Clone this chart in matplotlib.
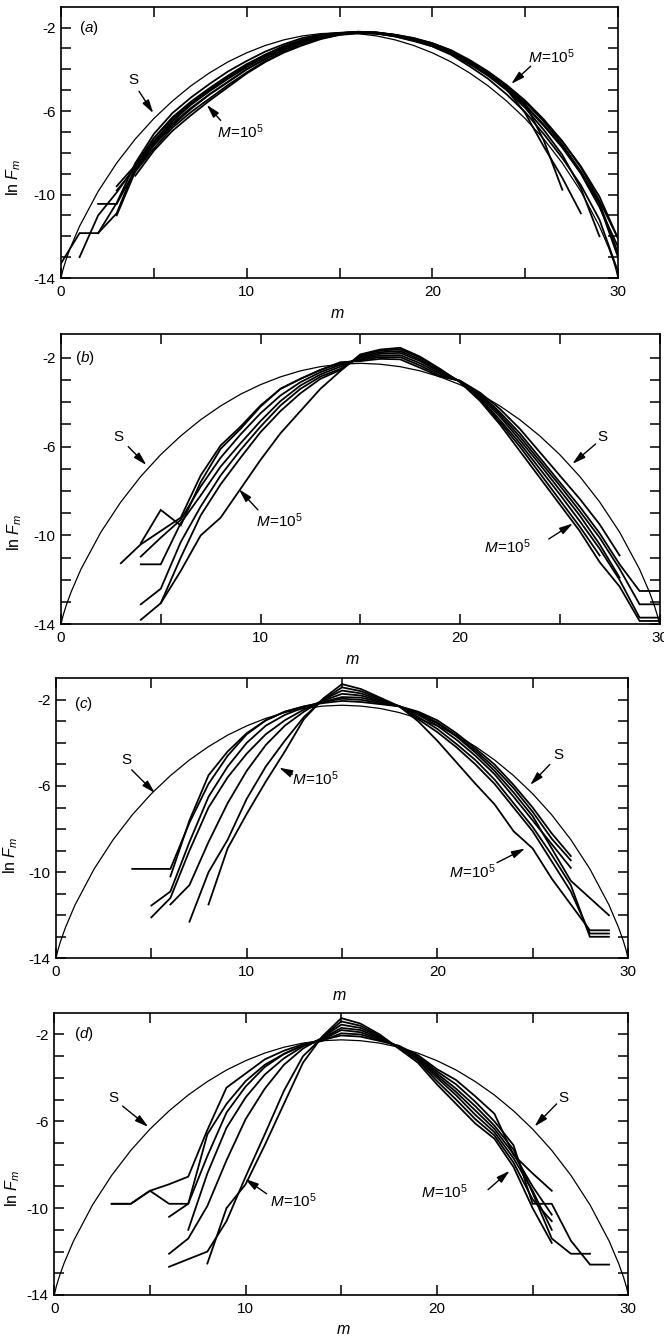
import numpy as np
import matplotlib
matplotlib.use("Agg")
import matplotlib.pyplot as plt

plt.rcParams['font.family'] = ['Liberation Sans', 'DejaVu Sans']
plt.rcParams['mathtext.fontset'] = 'custom'
plt.rcParams['mathtext.rm'] = 'Liberation Sans'
plt.rcParams['mathtext.it'] = 'Liberation Sans:italic'
plt.rcParams['axes.unicode_minus'] = False

# ---- S curve (same in every panel) ----
S_M = [0, 0.1, 0.25, 0.5, 1, 2, 3, 4, 5, 6, 7, 8, 9, 10, 11, 12, 13, 14, 15,
       16, 17, 18, 19, 20, 21, 22, 23, 24, 25, 26, 27, 28, 29, 29.5, 29.75, 29.9, 30]
S_LNF = [-14.0, -13.62, -13.18, -12.56, -11.52, -9.85, -8.49, -7.34, -6.36, -5.52, -4.79,
         -4.17, -3.64, -3.21, -2.86, -2.59, -2.40, -2.29, -2.25,
         -2.29, -2.40, -2.59, -2.86, -3.21, -3.64, -4.17, -4.79, -5.52, -6.36, -7.34,
         -8.49, -9.85, -11.52, -12.56, -13.18, -13.62, -14.0]

# ---- data curves: (first m, ln F_m at consecutive integer m) ----
A_CURVES = [
    (0, [-13.3, -11.85, -11.85, -10.4, -8.5, -7.1, -6.1, -5.35, -4.7, -4.1, -3.6, -3.15, -2.8, -2.5, -2.33,
         -2.25, -2.22, -2.28, -2.43, -2.65, -2.9, -3.25, -3.75, -4.3, -4.95, -5.75, -6.7, -7.75, -9.0, -10.6, -12.5]),
    (1, [-13.0, -11.0, -9.9, -8.65, -7.3, -6.3, -5.55, -4.9, -4.3, -3.75, -3.3, -2.92, -2.6, -2.4, -2.27,
         -2.2, -2.23, -2.35, -2.52, -2.75, -3.1, -3.6, -4.15, -4.8, -5.55, -6.45, -7.45, -8.7, -10.3, -12.1]),
    (2, [-10.45, -10.45, -8.8, -7.5, -6.5, -5.7, -5.05, -4.45, -3.9, -3.4, -3.0, -2.67, -2.43, -2.3, -2.23,
         -2.28, -2.42, -2.62, -2.85, -3.2, -3.7, -4.25, -4.9, -5.7, -6.65, -7.7, -8.9, -10.5, -13.0]),
    (2, [-11.85, -10.9, -8.7, -7.45, -6.45, -5.65, -5.0, -4.4, -3.85, -3.35, -2.95, -2.62, -2.4, -2.27,
         -2.21, -2.25, -2.38, -2.57, -2.8, -3.15, -3.65, -4.2, -4.85, -5.65, -7.4, -9.77]),
    (3, [-9.8, -8.75, -7.6, -6.6, -5.85, -5.2, -4.6, -4.0, -3.5, -3.08, -2.72, -2.47, -2.3, -2.22, -2.25,
         -2.36, -2.55, -2.8, -3.15, -3.65, -4.25, -4.95, -6.1, -7.7, -9.2, -10.9]),
    (3, [-11.0, -8.9, -7.8, -6.8, -6.05, -5.4, -4.75, -4.15, -3.6, -3.15, -2.8, -2.52, -2.34, -2.25, -2.27,
         -2.38, -2.58, -2.83, -3.2, -3.72, -4.3, -5.0, -5.85, -6.9, -8.1, -9.7, -12.0]),
    (4, [-9.1, -7.9, -6.95, -6.2, -5.5, -4.85, -4.2, -3.65, -3.2, -2.85, -2.55, -2.35, -2.28, -2.3, -2.4,
         -2.6, -2.9, -3.3, -3.85, -4.45, -5.2, -6.05, -7.1, -8.25, -9.55, -11.2, -13.7]),
    (4, [-8.9, -7.65, -6.7, -5.9, -5.2, -4.6, -4.0, -3.5, -3.05, -2.7, -2.45, -2.3, -2.22, -2.24, -2.34,
         -2.5, -2.75, -3.08, -3.55, -4.1, -4.75, -5.5, -6.4, -7.45, -8.65, -10.1, -12.1]),
    (3, [-9.6, -8.6, -7.3, -6.35, -5.6, -4.95, -4.35, -3.8, -3.3, -2.88, -2.58, -2.37, -2.26, -2.2, -2.24,
         -2.36, -2.55, -2.78, -3.12, -3.6, -4.15, -4.8, -5.55, -6.5, -7.6, -8.9, -10.4, -12.8]),
]

B_CURVES = [
    (4, [-10.35, -8.85, -9.55, -7.6, -6.1, -5.2, -4.2, -3.4, -2.95, -2.55, -2.2, -2.15, -2.05, -2.07,
         -2.45, -2.85, -3.03, -3.57, -4.3, -5.2, -6.25, -7.3, -8.35, -9.5, -10.9]),
    (3, [-11.25, -10.4, -9.8, -9.2, -7.3, -5.95, -5.1, -4.15, -3.4, -2.95, -2.55, -2.25, -2.1, -1.97, -1.97,
         -2.35, -2.8, -3.04, -3.62, -4.45, -5.4, -6.5, -7.6, -8.7, -9.9, -11.3, -12.5, -12.5]),
    (4, [-10.95, -10.1, -9.3, -7.8, -6.5, -5.45, -4.5, -3.7, -3.1, -2.65, -2.32, -2.05, -1.9, -1.88,
         -2.25, -2.72, -3.05, -3.68, -4.55, -5.55, -6.65, -7.75, -8.9, -10.1, -11.5, -13.1, -13.1]),
    (4, [-11.3, -11.3, -9.45, -8.2, -6.9, -5.85, -4.85, -3.95, -3.25, -2.75, -2.4, -2.0, -1.82, -1.78,
         -2.15, -2.65, -3.06, -3.75, -4.65, -5.7, -6.8, -7.95, -9.1, -10.4, -11.9]),
    (4, [-13.1, -12.4, -10.3, -8.7, -7.3, -6.15, -5.1, -4.15, -3.4, -2.85, -2.5, -1.95, -1.75, -1.7,
         -2.08, -2.6, -3.07, -3.82, -4.8, -5.85, -7.0, -8.15, -9.35, -10.6, -12.0, -13.7, -13.7]),
    (4, [-13.8, -13.05, -11.0, -9.1, -7.7, -6.5, -5.35, -4.4, -3.6, -2.95, -2.55, -1.9, -1.68, -1.62,
         -2.0, -2.55, -3.08, -3.88, -4.9, -6.0, -7.2, -8.4, -9.6, -10.9]),
    (5, [-13.05, -11.6, -10.0, -9.2, -7.9, -6.6, -5.4, -4.4, -3.4, -2.6, -1.85, -1.63, -1.55,
         -1.95, -2.5, -3.1, -3.94, -5.0, -6.2, -7.4, -8.6, -9.8, -11.2, -12.3, -13.85, -13.85]),
]

C_CURVES = [
    (4, [-9.85, -9.85, -9.85, -7.7, -5.9, -4.6, -3.6, -2.95, -2.55, -2.3, -2.15, -2.05, -2.1, -2.2,
         -2.3, -2.55, -2.95, -3.55, -4.25, -5.0, -5.95, -7.0, -8.2, -9.25]),
    (6, [-10.2, -7.6, -5.5, -4.4, -3.55, -2.95, -2.55, -2.32, -2.1, -1.95, -2.0, -2.15, -2.3, -2.6,
         -3.05, -3.65, -4.35, -5.15, -6.1, -7.2, -8.45, -9.45]),
    (5, [-11.55, -10.9, -8.6, -6.5, -5.1, -4.0, -3.2, -2.7, -2.35, -2.1, -1.87, -1.9, -2.1, -2.3, -2.65,
         -3.1, -3.7, -4.45, -5.3, -6.3, -7.4, -8.9, -10.4, -11.2, -12.0]),
    (5, [-12.1, -11.2, -9.0, -7.0, -5.6, -4.5, -3.6, -2.95, -2.45, -2.05, -1.72, -1.8, -2.05, -2.3, -2.7,
         -3.2, -3.85, -4.6, -5.45, -6.5, -7.6, -8.7, -9.8]),
    (6, [-11.5, -10.6, -8.6, -6.8, -5.3, -4.1, -3.2, -2.55, -2.0, -1.57, -1.7, -2.0, -2.3, -2.8, -3.35,
         -4.05, -4.8, -5.7, -6.8, -7.9, -9.2, -10.6, -13.0, -13.0]),
    (7, [-12.3, -10.0, -8.5, -6.6, -5.1, -3.9, -2.8, -2.0, -1.42, -1.6, -1.95, -2.3, -2.9, -3.5, -4.2,
         -5.0, -5.9, -7.0, -8.1, -9.5, -10.9, -12.85, -12.85]),
    (8, [-11.5, -8.9, -7.3, -5.8, -4.4, -2.9, -1.95, -1.27, -1.5, -1.9, -2.3, -3.0, -3.9, -4.9, -5.9,
         -6.85, -8.1, -8.9, -10.3, -11.5, -12.7, -12.7]),
]

D_CURVES = [
    (3, [-9.8, -9.8, -9.2, -8.9, -8.55, -6.4, -4.45, -3.8, -3.15, -2.75, -2.45, -2.25, -2.05, -2.1, -2.3,
         -2.52, -2.95, -3.6, -4.1, -4.85, -5.65, -7.55, -8.4, -9.2]),
    (3, [-9.8, -9.8, -9.2, -9.8, -9.8, -7.6, -5.6, -4.4, -3.5, -2.9, -2.5, -2.3, -1.95, -2.0, -2.25,
         -2.54, -3.0, -3.7, -4.3, -5.1, -6.0, -7.1, -9.8, -9.8, -11.5, -12.6, -12.6]),
    (6, [-10.4, -9.8, -6.6, -5.2, -4.15, -3.4, -2.9, -2.5, -2.25, -1.8, -1.9, -2.2, -2.56, -3.05, -3.8,
         -4.5, -5.3, -6.2, -7.3, -9.3, -11.4, -12.1, -12.1]),
    (7, [-11.0, -8.4, -6.3, -4.9, -3.85, -3.1, -2.55, -2.2, -1.7, -1.8, -2.15, -2.58, -3.1, -3.9, -4.65,
         -5.5, -6.35, -7.5, -9.0, -10.3]),
    (6, [-12.1, -11.4, -9.9, -7.8, -5.9, -4.5, -3.4, -2.65, -2.15, -1.55, -1.7, -2.1, -2.6, -3.15, -4.0,
         -4.8, -5.7, -6.5, -7.7, -9.2, -11.0]),
    (6, [-12.7, -12.35, -12.0, -10.6, -8.55, -6.6, -4.6, -3.0, -2.15, -1.4, -1.6, -2.05, -2.62, -3.2,
         -4.15, -5.0, -5.9, -6.65, -7.9, -9.6, -10.6]),
    (8, [-12.55, -10.0, -8.9, -7.1, -5.2, -3.3, -2.1, -1.25, -1.5, -2.0, -2.65, -3.3, -4.3, -5.2, -6.1,
         -6.8, -8.1, -10.0, -11.6]),
]

X_TICKS = [0, 5, 10, 15, 20, 25, 30]
X_TICK_LABELS = ['0', '', '10', '', '20', '', '30']
Y_TICKS = list(range(-14, -1))
Y_TICK_LABELS = ['-14', '', '', '', '-10', '', '', '', '-6', '', '', '', '-2']

MLAB = r'$M\!=\!10^{5}$'

W, H = 664, 1338
fig = plt.figure(figsize=(W / 100, H / 100), dpi=100)

panels = [
    dict(tag='a', px=(61, 618, 6.7, 278), ytop=-1.0, curves=A_CURVES,
         tagpos=(1.5, -2.0),
         texts=[('S', (3.9, -4.5)), (MLAB, (9.65, -7.0)), (MLAB, (26.4, -3.4))],
         arrows=[((4.2, -5.05), (4.97, -6.1)), ((8.6, -6.45), (7.85, -5.7)),
                 ((25.3, -3.85), (24.25, -4.7))],
         ylab=(14, 177), xlab=(337, 313)),
    dict(tag='b', px=(61, 659.5, 334, 624.3), ytop=-0.93, curves=B_CURVES,
         tagpos=(1.2, -2.0),
         texts=[('S', (2.87, -5.55)), (MLAB, (10.95, -9.33)), ('S', (27.14, -5.58)),
                (MLAB, (22.39, -10.5))],
         arrows=[((3.37, -6.0), (4.28, -6.83)), ((9.87, -8.85), (8.92, -7.92)),
                 ((26.8, -5.88), (25.63, -6.78)), ((24.45, -10.16), (25.66, -9.46))],
         ylab=(15, 532), xlab=(352, 660)),
    dict(tag='c', px=(56, 628, 678.3, 958.3), ytop=-1.0, curves=C_CURVES,
         tagpos=(1.43, -2.2),
         texts=[('S', (3.67, -4.78)), (MLAB, (13.6, -5.66)), ('S', (26.35, -4.55)),
                (MLAB, (21.83, -9.97))],
         arrows=[((3.97, -5.25), (5.19, -6.33)), ((12.4, -5.45), (11.7, -5.15)),
                 ((25.9, -5.0), (24.87, -5.95)), ((23.13, -9.56), (24.6, -8.9))],
         ylab=(11, 855), xlab=(339, 995)),
    dict(tag='d', px=(54.3, 628.3, 1012.7, 1295), ytop=-1.0, curves=D_CURVES,
         tagpos=(1.52, -2.0),
         texts=[('S', (3.08, -4.95)), (MLAB, (12.49, -9.65)), ('S', (26.6, -4.94)),
                (MLAB, (20.4, -9.26))],
         arrows=[((3.57, -5.3), (4.91, -6.26)), ((11.1, -9.34), (9.97, -8.65)),
                 ((26.25, -5.2), (25.1, -6.24)), ((22.67, -9.15), (23.8, -8.28))],
         ylab=(13, 1188), xlab=(343, 1330)),
]

for p in panels:
    l, r, t, b = p['px']
    ax = fig.add_axes([l / W, (H - b) / H, (r - l) / W, (b - t) / H])
    ax.set_xlim(0, 30)
    ax.set_ylim(-14, p['ytop'])
    for sp in ax.spines.values():
        sp.set_linewidth(1.2)
    ax.set_xticks(X_TICKS)
    ax.set_xticklabels(X_TICK_LABELS)
    ax.set_yticks(Y_TICKS)
    ax.set_yticklabels(Y_TICK_LABELS)
    ax.tick_params(axis='both', direction='in', length=7, width=1.1, labelsize=11,
                   top=True, right=True)
    ax.tick_params(axis='x', pad=5)
    ax.tick_params(axis='y', pad=4)

    ax.plot(S_M, S_LNF, color='black', lw=0.9, clip_on=True)
    for start, vals in p['curves']:
        m = np.arange(start, start + len(vals))
        ax.plot(m, vals, color='black', lw=1.3, solid_joinstyle='miter', clip_on=True)

    ax.text(p['tagpos'][0], p['tagpos'][1], '(' + r'$%s$' % p['tag'] + ')',
            fontsize=11, ha='center', va='center')
    for s, pos in p['texts']:
        ax.text(pos[0], pos[1], s, fontsize=11, ha='center', va='center')
    for tail, tip in p['arrows']:
        ax.annotate('', xy=tip, xytext=tail,
                    arrowprops=dict(arrowstyle='-|>,head_length=0.8,head_width=0.22',
                                    color='black', lw=1.0, shrinkA=0, shrinkB=0,
                                    mutation_scale=10))
    fig.text(p['ylab'][0] / W, 1 - p['ylab'][1] / H, r'ln $F_m$', rotation=90,
             ha='center', va='center', fontsize=11.5)
    fig.text(p['xlab'][0] / W, 1 - p['xlab'][1] / H, r'$m$',
             ha='center', va='center', fontsize=11.5)

fig.savefig('out.png', dpi=100)
